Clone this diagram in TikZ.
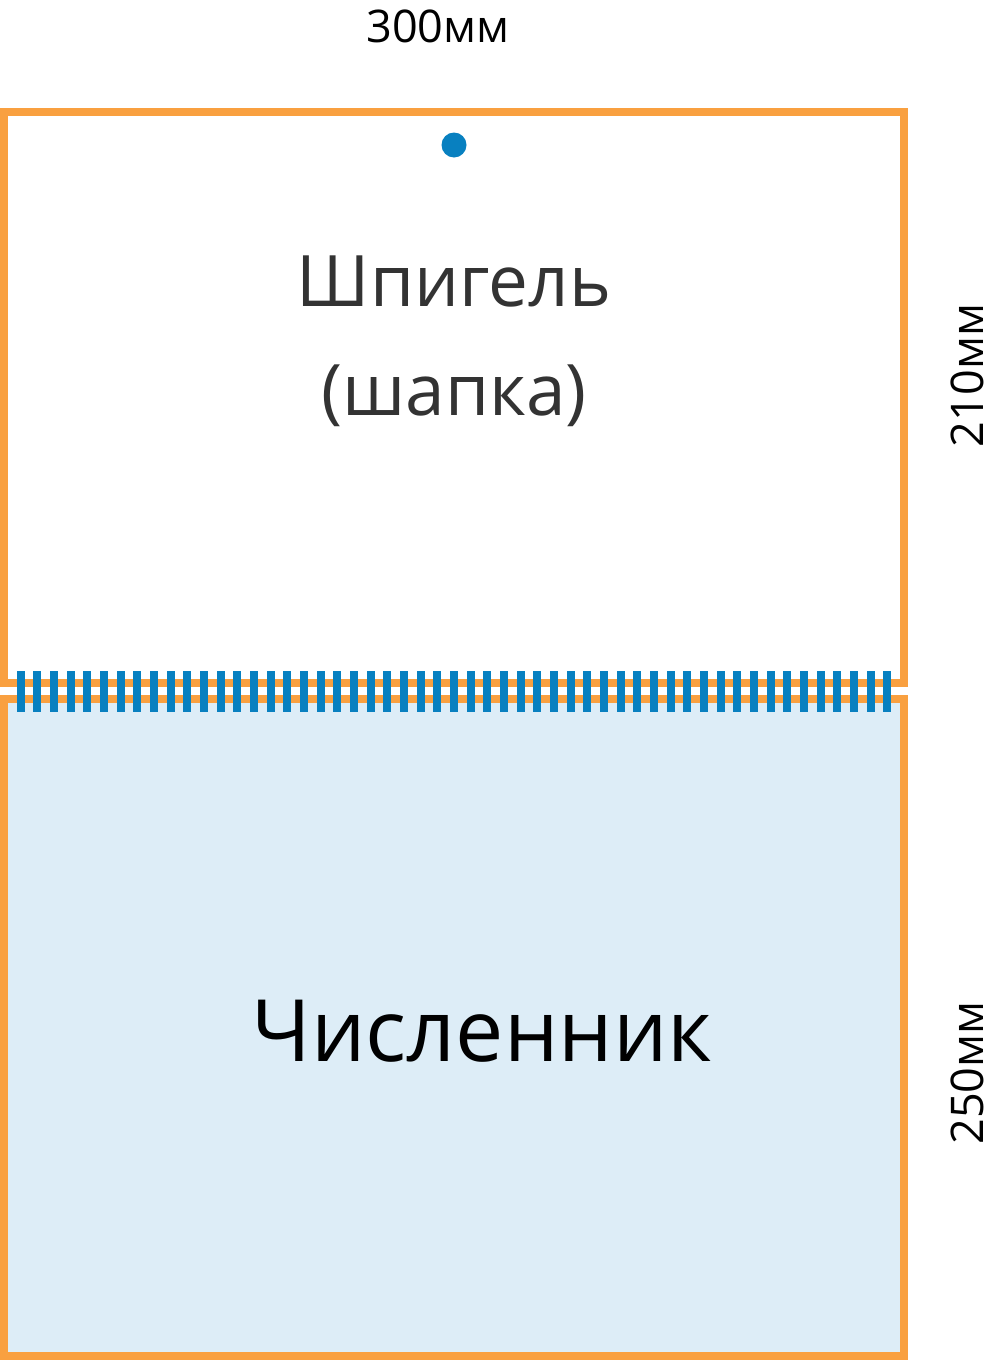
\documentclass[tikz,border=0pt]{standalone}
\usepackage{fontspec}
\setmainfont{Open Sans}
\usepackage{tikz}
\definecolor{frameorange}{HTML}{F9A040}
\definecolor{coilblue}{HTML}{0880C0}
\definecolor{padblue}{HTML}{DDEDF7}
\definecolor{headgrey}{HTML}{333333}

\begin{document}
\begin{tikzpicture}[x=1pt,y=-1pt]
    \tikzstyle{sheet} = [draw=frameorange,line width=8pt]
    \tikzstyle{coil} = [fill=coilblue,draw=none]
    \tikzstyle{size} = [anchor=base,inner sep=0pt,font=\fontsize{45}{54}\selectfont]
    \tikzstyle{title} = [anchor=base,inner sep=0pt,align=center]

    \useasboundingbox (0,0) rectangle (996,1360);

    % calendar sheets
    \draw[sheet,fill=padblue] (4,699) rectangle (904,1355.5);
    \draw[sheet] (4,112) rectangle (904,683);

    % spiral binding
    \foreach \i in {0,...,52}
        \fill[coil] (16.7+16.667*\i,671) rectangle ++(8,41);

    % hanging hole
    \fill[coilblue] (454,145) circle (12.5);

    \node[title,text=headgrey,font=\fontsize{71}{109}\selectfont] (head) at (454,415) {Шпигель\\(шапка)};
    \node[title,font=\fontsize{86}{110}\selectfont] (pad) at (482,1061) {Численник};

    \node[size] (width) at (438,42) {300мм};
    \node[size,rotate=90] (headsize) at (983,375.5) {210мм};
    \node[size,rotate=90] (padsize) at (983,1073) {250мм};
\end{tikzpicture}
\end{document}
